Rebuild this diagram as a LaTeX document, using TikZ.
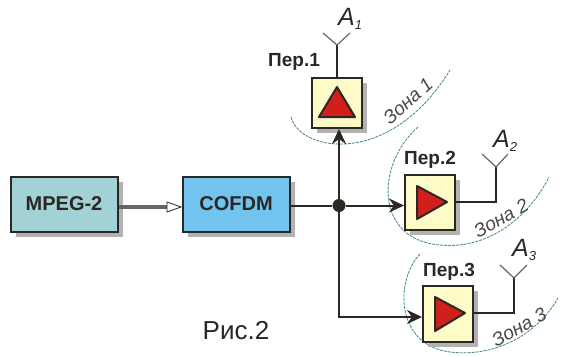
\documentclass[tikz,border=0pt]{standalone}
\usepackage{fontspec}
\setmainfont{Liberation Sans}
\usetikzlibrary{arrows.meta,shadows,positioning}
\definecolor{mint}{HTML}{A3D2D6}
\definecolor{sky}{HTML}{73C3EF}
\definecolor{cream}{HTML}{FFFBC8}
\definecolor{redtri}{HTML}{D1201A}
\definecolor{zonec}{HTML}{4F9090}
\definecolor{ink}{HTML}{2B2723}
\newcommand{\fs}[1]{\fontsize{#1}{#1}\selectfont}
\newcommand{\antlabel}[1]{\textit{\fs{25}A}\raisebox{-4pt}{\textit{\fs{13}#1}}}
\tikzset{
  x=1pt,y=-1pt,
  boxshadow/.style={general shadow={shadow xshift=5pt,shadow yshift=-5pt,fill=black!30}},
  codec/.style={draw=ink,line width=2pt,boxshadow,minimum width=107pt,minimum height=55pt,inner sep=0pt,font=\bfseries\fs{20},text=ink},
  txbox/.style={draw=ink,line width=2pt,fill=cream,boxshadow,minimum width=50pt,minimum height=50pt,inner sep=0pt},
  tri/.style={draw=ink,line width=2pt,fill=redtri,line join=round},
  wire/.style={draw=ink,line width=2pt},
  feed/.style={wire,-{Stealth[length=15pt,width=14pt]}},
  ant/.style={draw=black!60,line width=1.2pt},
  zone/.style={draw=zonec,line width=0.9pt,dash pattern=on 3pt off 1pt},
  txlabel/.style={font=\bfseries\fs{19},text=ink,inner sep=0pt},
  zonelabel/.style={font=\itshape\fs{19},text=ink!85,inner sep=0pt},
  antname/.style={anchor=west,inner sep=0pt,text=ink}
}
\begin{document}
\begin{tikzpicture}
\useasboundingbox (0,0) rectangle (561,356);
% zones
\draw[zone] (291,117) .. controls (300,152) and (390,168) .. (450,70);
\draw[zone] (418,127) .. controls (375,165) and (375,240) .. (440,245) .. controls (490,250) and (530,215) .. (549,177);
\draw[zone] (420,254) .. controls (395,280) and (395,345) .. (450,352) .. controls (500,358) and (540,330) .. (558,298);
% boxes
\node[codec,fill=mint] (mpeg) at (64,204) {MPEG-2};
\node[codec,fill=sky] (cofdm) at (236,204) {COFDM};
\node[txbox] (t1) at (337,103) {};
\node[txbox,minimum height=55pt] (t2) at (430,202.5) {};
\node[txbox,minimum height=56pt] (t3) at (448,314) {};
% triangles
\draw[tri] (337,87) -- (355,117) -- (319,117) -- cycle;
\draw[tri] (417,186) -- (447,202) -- (417,219) -- cycle;
\draw[tri] (435,297) -- (465,313) -- (435,331) -- cycle;
% junction and routing points
\node[circle,fill=ink,minimum size=13pt,inner sep=0pt] (j) at (339,205.5) {};
\coordinate (a1) at (337,45);
\coordinate (a1l) at (323,33);
\coordinate (a1r) at (350,33);
\coordinate (a2) at (496,167);
\coordinate (a2l) at (482,154);
\coordinate (a2r) at (508,154);
\coordinate (a3) at (514,278);
\coordinate (a3l) at (500,265);
\coordinate (a3r) at (527,265);
\coordinate (c3) at (339,317);
% connectors
\draw[draw=black!60,line width=3.5pt] (mpeg.east |- 0,207) -- (167,207);
\draw[draw=ink,line width=0.8pt,fill=white,line join=miter] (167,202) -- (181,207) -- (167,212) -- cycle;
\draw[wire] (cofdm.east |- j) -- (j);
\draw[feed] (j) -- (j |- t1.south);
\draw[feed] (j) -- (j -| t2.west);
\draw[feed] (j) -- (c3) -- (c3 -| t3.west);
\draw[wire] (t1.north) -- (a1);
\draw[wire] (t2.east |- 0,202) -| (a2);
\draw[wire] (t3.east |- 0,313) -| (a3);
\draw[ant] (a1l) -- (a1) -- (a1r);
\draw[ant] (a2l) -- (a2) -- (a2r);
\draw[ant] (a3l) -- (a3) -- (a3r);
% labels
\node[txlabel] (l1) at (294,62) {Пер.1};
\node[txlabel] (l2) at (430,160) {Пер.2};
\node[txlabel] (l3) at (449,272) {Пер.3};
\node[antname] (n1) at (338,19) {\antlabel{1}};
\node[antname] (n2) at (493,141) {\antlabel{2}};
\node[antname] (n3) at (512,250) {\antlabel{3}};
\node[zonelabel,rotate=42] (z1) at (408,101) {Зона 1};
\node[zonelabel,rotate=29] (z2) at (501,218) {Зона 2};
\node[zonelabel,rotate=29] (z3) at (519,327) {Зона 3};
\node[inner sep=0pt,font=\fs{26},text=ink] (cap) at (236,331) {Рис.2};
\end{tikzpicture}
\end{document}
